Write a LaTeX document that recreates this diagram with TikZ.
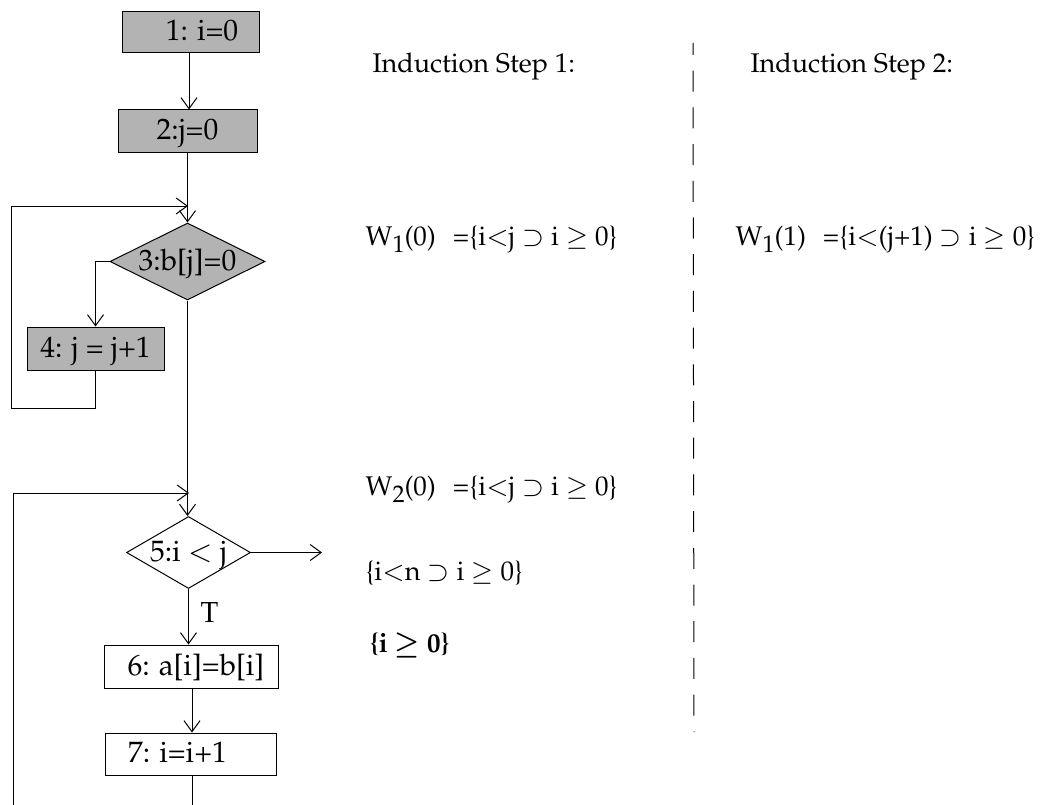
\documentclass[tikz,border=0pt]{standalone}
\usepackage[T1]{fontenc}
\usepackage{mathpazo}
\usetikzlibrary{arrows.meta,shapes.geometric}
\definecolor{boxgray}{RGB}{179,179,179}
\newcommand\boxfnt{\fontsize{29.5}{32}\selectfont}
\newcommand\rtxtfnt{\fontsize{27}{32}\selectfont}
\newcommand\lowsub[1]{\raisebox{-7pt}{\fontsize{24}{26}\selectfont #1}}
\begin{document}
\begin{tikzpicture}[x=1pt,y=-1pt,line width=1pt,
  box/.style={draw,rectangle,inner sep=0pt,text height=17pt,text depth=0pt,font=\boxfnt},
  gbox/.style={box,fill=boxgray},
  dia/.style={draw,diamond,shape aspect=2,inner sep=0pt,text height=17pt,text depth=0pt,font=\boxfnt},
  arr/.style={-{Straight Barb[length=11pt,width=16pt]}},
  lbl/.style={anchor=base west,inner sep=0pt,font=\rtxtfnt}]
\useasboundingbox (0,0) rectangle (1054,805);
% flowchart nodes
\node[gbox,minimum width=137pt,minimum height=41pt] (b1) at (190.5,32.5) {\hspace*{23pt}1: i=0};
\node[gbox,minimum width=139pt,minimum height=43pt] (b2) at (187.5,131.5) {2:j=0};
\node[dia,fill=boxgray,minimum width=155pt,minimum height=77pt] (d3) at (187.5,261.5) {3:b[j]=0};
\node[gbox,minimum width=137pt,minimum height=43pt] (b4) at (95.5,348.5) {4: j = j+1};
\node[dia,fill=white,minimum width=124pt,minimum height=72pt] (d5) at (188.5,552.5) {5:i $<$ j};
\node[box,minimum width=174pt,minimum height=43pt] (b6) at (191,666.5) {\hspace*{10pt}6: a[i]=b[i]};
\node[box,minimum width=171pt,minimum height=42pt] (b7) at (190.5,754) {7: i=i+1\hspace*{26pt}};
\coordinate (m1) at (188,206);
\coordinate (m2) at (189,493);
\coordinate (exit) at (322,552.5);
\coordinate (end7) at (192,805);
% connectors
\draw[arr] ([xshift=-1.5pt]b1.south) -- ([xshift=-1.5pt]b1.south |- b2.north);
\draw[arr] (b2.south -| d3.north) -- (d3.north);
\draw[arr] (b4.south) -- ++(0,38) -| (11,206) -- (m1);
\draw[arr] (d3.west) -| (b4.north);
\draw[arr] (d3.south) -- (d3.south |- d5.north);
\draw[arr] (13,805) |- (m2);
\draw[arr] (d5.east) -- (exit);
\draw[arr] (d5.south) -- (d5.south |- b6.north);
\node[anchor=base west,inner sep=0pt,font=\fontsize{29}{32}\selectfont] (tlbl) at (200,622) {T};
\draw[arr] ([xshift=1pt]b6.south) -- ([xshift=1pt]b6.south |- b7.north);
\draw ([xshift=1.5pt]b7.south) -- (end7);
% separator
\draw[dash pattern=on 21pt off 15.7pt,dash phase=9pt] (693,43) -- (694,732);
% annotations
\node[lbl] (h1) at (372,73) {Induction Step 1:};
\node[lbl] (h2) at (750,73) {Induction Step 2:};
\node[lbl] (w10) at (365,245) {W\lowsub{1}(0)\hspace{17pt}=\{i$<$j $\supset$ i $\geq$ 0\}};
\node[lbl] (w11) at (735,245) {W\lowsub{1}(1)\hspace{17pt}=\{i$<$(j+1) $\supset$ i $\geq$ 0\}};
\node[lbl] (w20) at (365,495) {W\lowsub{2}(0)\hspace{17pt}=\{i$<$j $\supset$ i $\geq$ 0\}};
\node[lbl] (c1) at (365,580) {\{i$<$n $\supset$ i $\geq$ 0\}};
\node[lbl] (c2) at (370,652) {\textbf{\{i {\boldmath$\geq$} 0\}}};
\end{tikzpicture}
\end{document}
